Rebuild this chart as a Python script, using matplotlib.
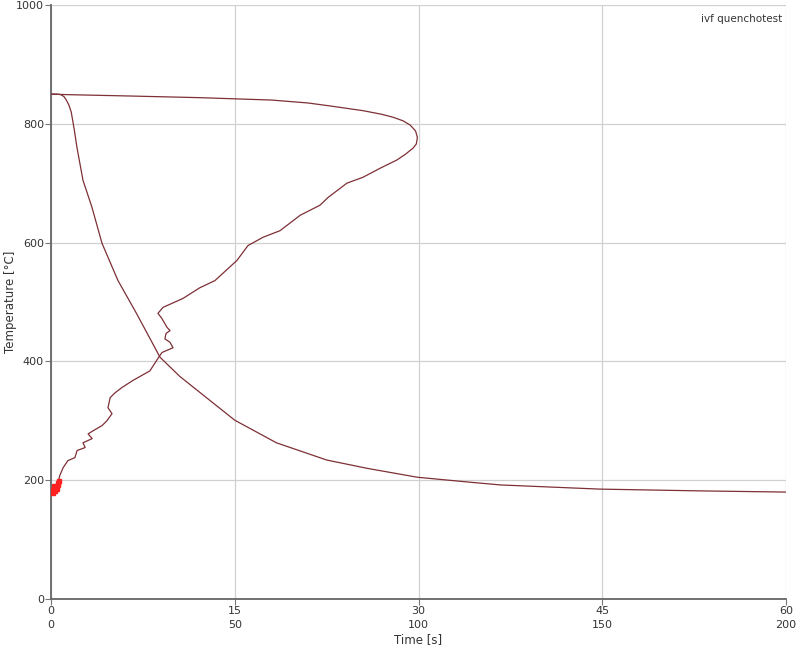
import matplotlib
matplotlib.use("Agg")
import matplotlib.pyplot as plt

# Cooling curve: temperature vs time (top tick row, 0-60 s)
time_s = [0.0, 0.5, 0.8, 1.05, 1.25, 1.45, 1.65, 1.9, 2.12, 2.61, 3.35, 4.16,
          5.47, 7.0, 8.9, 10.5, 12.2, 15.0, 18.4, 22.5, 25.8, 29.9, 34.0,
          36.7, 44.8, 53.0, 60.0]
temp_time = [850, 850, 849, 846, 840, 832, 820, 790, 760, 705, 659, 599,
             536, 480, 407, 375, 347, 301, 263, 234, 220, 205, 197,
             192, 185, 182, 180]

# Cooling-rate curve: temperature vs rate (bottom tick row, 0-200)
rate = [0.0, 5.0, 20.0, 40.5, 60.0, 70.0, 76.0, 85.0, 90.0, 93.1, 95.8, 97.7,
        99.2, 99.7, 99.4, 98.5, 96.5, 94.1, 89.5,
        84.9, 80.5, 75.4, 73.2, 67.8, 62.3, 57.7, 53.6, 50.6, 44.6, 40.5,
        35.9, 30.5, 29.1, 30.2, 31.6, 32.4, 31.3, 31.0, 32.4, 33.2, 30.2,
        29.1, 26.9, 22.3, 19.3, 17.4, 16.1, 15.5, 16.6, 15.2, 13.9, 11.4,
        10.1, 11.2, 8.7, 9.3, 7.1, 6.5, 4.6, 3.3, 2.4, 1.9, 1.1]
temp_rate = [850, 849, 847, 844, 840, 835, 830, 822, 816, 811, 805, 798,
             788, 777, 766, 759, 749, 739, 725,
             710, 700, 676, 663, 646, 620, 609, 595, 570, 536, 524,
             506, 491, 481, 472, 457, 452, 447, 438, 432, 423, 415,
             405, 384, 368, 356, 347, 339, 322, 312, 300, 292, 283,
             278, 270, 263, 255, 250, 238, 233, 221, 208, 196, 186]

# Red noisy points at end of rate curve
red_rate = [0.6, 1.0, 1.4, 1.8, 0.8, 1.2, 2.0, 1.6, 0.5, 2.3]
red_temp = [183, 186, 189, 192, 190, 181, 195, 185, 178, 199]

top_ticks = [0, 15, 30, 45, 60]
bottom_ticks = [0, 50, 100, 150, 200]
y_ticks = [0, 200, 400, 600, 800, 1000]

line_color = "#7d3035"

fig = plt.figure(figsize=(7.96, 6.53), dpi=100)
ax = fig.add_axes([51/796, 1-599/653, (786-51)/796, (599-5)/653])
ax.set_xlim(0, 60)
ax.set_ylim(0, 1000)

ax.plot(time_s, temp_time, color=line_color, lw=0.9)

ax2 = ax.twiny()
ax2.set_xlim(0, 200)
ax2.plot(rate, temp_rate, color=line_color, lw=0.9)
ax2.plot(red_rate, red_temp, color="#ff2020", marker="s", ms=2.5, lw=0.8)
ax2.set_xticks([])
for s in ax2.spines.values():
    s.set_visible(False)

ax.set_xticks(top_ticks)
ax.set_xticklabels([f"{a}\n{b}" for a, b in zip(top_ticks, bottom_ticks)],
                   fontsize=8, color="#333333", linespacing=1.45)
ax.set_yticks(y_ticks)
ax.set_yticklabels([str(v) for v in y_ticks], fontsize=8, color="#333333")
ax.tick_params(axis="both", length=4, width=0.8, color="#777777", pad=1)

ax.grid(True, color="#d0d0d0", lw=0.9)
ax.set_axisbelow(True)
for side in ["top", "right"]:
    ax.spines[side].set_visible(False)
for side in ["left", "bottom"]:
    ax.spines[side].set_color("#666666")
    ax.spines[side].set_linewidth(1.3)

ax.set_xlabel("Time [s]", fontsize=8.5, color="#333333")
ax.xaxis.set_label_coords(0.5, -34/594)
ax.set_ylabel("Temperature [°C]", fontsize=8.5, color="#333333")
ax.yaxis.set_label_coords(-34/735, 0.5)
ax.text(0.995, 0.985, "ivf quenchotest", transform=ax.transAxes,
        ha="right", va="top", fontsize=7.5, color="#333333")

fig.savefig("out.png", dpi=100)
